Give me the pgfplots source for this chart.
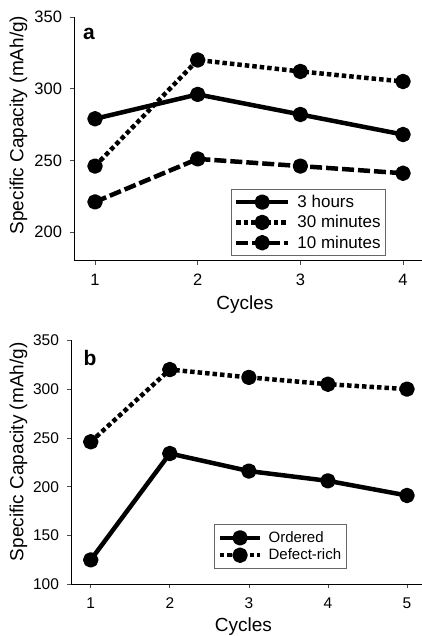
\documentclass[border=0pt]{standalone}
\usepackage{fontspec}
\setmainfont{Liberation Sans}
\usepackage{pgfplots}
\pgfplotsset{compat=1.18}
\pgfplotsset{
  base/.style={
    scale only axis,
    axis lines*=left,
    axis line style={line width=0.9pt, black},
    tick align=outside,
    major tick length=4pt,
    tick style={line width=0.7pt, black!70},
    /pgf/number format/assume math mode=true,
    clip=false,
    legend cell align=left,
    xticklabel style={yshift=-6pt},
    yticklabel style={xshift=-4.5pt},
    every axis plot/.append style={line width=4.5pt, line cap=butt, line join=round, mark=*, mark size=5.5pt, mark options={solid}},
  },
  s solid/.style={solid},
  s dot/.style={dash pattern=on 4.5pt off 3pt},
  s dash/.style={dash pattern=on 12pt off 4pt},
}
\begin{document}
\begin{tikzpicture}[x=1pt,y=1pt]
\useasboundingbox (0,0) rectangle (422,636);
% Panel a
\begin{axis}[base,
  at={(74pt,375.3pt)}, anchor=south west,
  width=348pt, height=243.7pt,
  xmin=0.795, xmax=4.185, ymin=180, ymax=350,
  xtick={1,2,3,4}, ytick={200,250,300,350},
  tick label style={font=\fontsize{16.5}{16.5}\selectfont},
  xlabel={Cycles}, ylabel={Specific Capacity (mAh/g)},
  label style={font=\fontsize{19}{19}\selectfont},
  xlabel style={at={(axis description cs:0.491,-0.182)}, anchor=center},
  ylabel style={at={(axis description cs:-0.1595,0.557)}, anchor=center},
  legend image code/.code={\draw[mark repeat=2,mark phase=2] plot coordinates {(0pt,0pt)(26pt,0pt)(52pt,0pt)};},
  legend style={at={(0.8966,0.019)}, anchor=south east, draw=black!60, line width=0.8pt,
    font=\fontsize{17}{20.5}\selectfont, inner xsep=3pt, inner ysep=4pt,
    row sep=2.5pt, column sep=5pt},
]
\addplot[black, s solid] coordinates {(1,279) (2,296) (3,282) (4,268)};
\addlegendentry{3 hours}
\addplot[black, s dot] coordinates {(1,246) (2,320) (3,312) (4,305)};
\addlegendentry{30 minutes}
\addplot[black, s dash] coordinates {(1,221) (2,251) (3,246) (4,241)};
\addlegendentry{10 minutes}
\node[font=\fontsize{21}{21}\selectfont\bfseries] at (axis description cs:0.043,0.932) {a};
\end{axis}
% Panel b
\begin{axis}[base,
  at={(71pt,51.7pt)}, anchor=south west,
  width=351pt, height=244pt,
  xmin=0.75, xmax=5.19, ymin=100, ymax=350,
  xtick={1,2,3,4,5}, ytick={100,150,200,250,300,350},
  tick label style={font=\fontsize{15.5}{15.5}\selectfont},
  xlabel={Cycles}, ylabel={Specific Capacity (mAh/g)},
  label style={font=\fontsize{19}{19}\selectfont},
  xlabel style={at={(axis description cs:0.491,-0.174)}, anchor=center},
  ylabel style={at={(axis description cs:-0.1496,0.543)}, anchor=center},
  legend image code/.code={\draw[mark repeat=2,mark phase=2] plot coordinates {(0pt,0pt)(20.3pt,0pt)(40.6pt,0pt)};},
  legend style={at={(0.785,0.0615)}, anchor=south east, draw=black!60, line width=0.8pt,
    font=\fontsize{15}{18.3}\selectfont, inner xsep=3pt, inner ysep=5.5pt,
    row sep=1pt, column sep=4pt},
]
\addplot[black, s solid] coordinates {(1,125) (2,234) (3,216) (4,206) (5,191)};
\addlegendentry{Ordered}
\addplot[black, s dot] coordinates {(1,246) (2,320) (3,312) (4,305) (5,300)};
\addlegendentry{Defect-rich}
\node[font=\fontsize{21}{21}\selectfont\bfseries] at (axis description cs:0.054,0.926) {b};
\end{axis}
\end{tikzpicture}
\end{document}
